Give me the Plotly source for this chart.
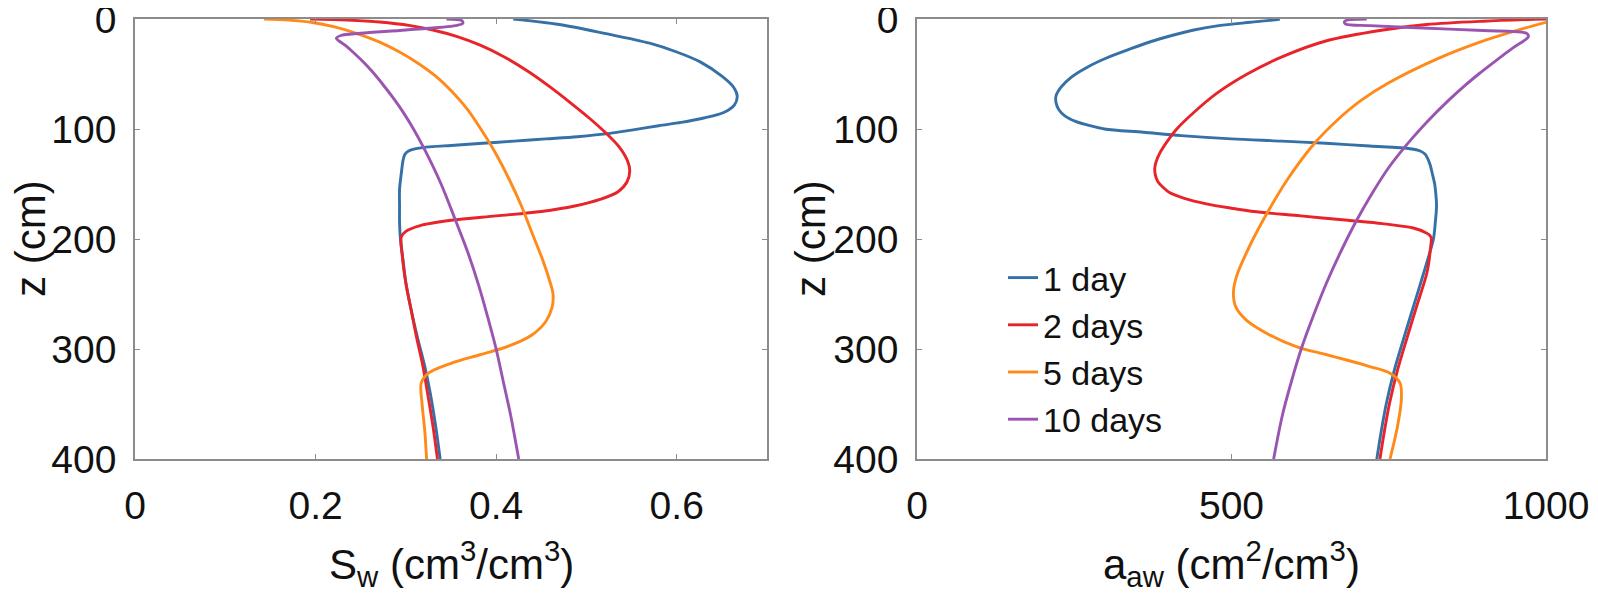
import plotly.graph_objects as go

# ---------------- data ----------------
series_names = ["1 day", "2 days", "5 days", "10 days"]
colors = ["#3570A6", "#E8232A", "#FF8A1A", "#9A55B0"]

# Left panel: S_w vs depth z
sw_1day_z = [0, 5, 13, 22, 30, 39, 52, 62, 70, 78, 85, 90, 94, 97, 101, 104, 107, 109, 111, 113, 115, 116, 118, 120, 123, 128, 140, 155, 170, 185, 200, 220, 240, 265, 290, 316, 340, 370, 400]
sw_1day_x = [0.419, 0.47, 0.52, 0.57, 0.600, 0.626, 0.650, 0.663, 0.667, 0.664, 0.652, 0.630, 0.605, 0.580, 0.550, 0.526, 0.490, 0.455, 0.420, 0.385, 0.350, 0.330, 0.310, 0.303, 0.299, 0.297, 0.295, 0.293, 0.293, 0.293, 0.294, 0.297, 0.300, 0.306, 0.313, 0.321, 0.327, 0.333, 0.338]

sw_2day_z = [0, 1, 2.7, 6, 10, 16, 24, 34, 48, 62, 76, 90, 104, 116, 128, 138, 148, 157, 164, 170, 175, 179, 183, 188, 193, 198, 215, 240, 265, 290, 316, 340, 370, 400]
sw_2day_x = [0.194, 0.235, 0.271, 0.305, 0.330, 0.357, 0.383, 0.408, 0.436, 0.460, 0.482, 0.503, 0.522, 0.536, 0.545, 0.548, 0.545, 0.535, 0.515, 0.487, 0.450, 0.400, 0.350, 0.315, 0.300, 0.295, 0.296, 0.300, 0.306, 0.312, 0.319, 0.324, 0.330, 0.335]

sw_5day_z = [0, 1, 3, 7, 13, 21, 30, 40, 52, 66, 82, 100, 120, 145, 170, 195, 220, 240, 250, 262, 275, 287, 297, 305, 313, 322, 331, 350, 375, 400]
sw_5day_x = [0.143, 0.170, 0.195, 0.220, 0.245, 0.271, 0.293, 0.313, 0.333, 0.351, 0.368, 0.383, 0.398, 0.414, 0.428, 0.440, 0.452, 0.460, 0.463, 0.462, 0.455, 0.440, 0.415, 0.383, 0.350, 0.325, 0.317, 0.318, 0.321, 0.323]

sw_10day_z = [0, 1.5, 4, 6, 10, 13, 15, 17.5, 24, 32, 40, 48, 60, 74, 86, 98, 119, 150, 183, 213, 243, 272, 300, 330, 360, 400]
sw_10day_x = [0.345, 0.362, 0.363, 0.355, 0.300, 0.250, 0.228, 0.223, 0.233, 0.244, 0.254, 0.263, 0.275, 0.288, 0.298, 0.307, 0.321, 0.339, 0.355, 0.369, 0.381, 0.391, 0.400, 0.408, 0.416, 0.425]

# Right panel: a_aw vs depth z
aw_1day_z = [0, 1, 3, 6, 10, 15, 20, 27, 35, 44, 53, 62, 70, 76, 82, 88, 93, 97, 100, 103, 106, 109, 111, 113, 115.5, 118, 120, 123, 127, 133, 140, 150, 160, 170, 185, 200, 230, 260, 290, 319, 350, 375, 400]
aw_1day_a = [577, 565, 530, 480, 440, 405, 375, 340, 303, 270, 245, 229, 221, 221, 225, 235, 252, 275, 298, 360, 420, 500, 580, 650, 720, 784, 800, 808, 812, 816, 819, 823, 825, 826, 824, 821, 806, 790, 774, 759, 746, 738, 731]

aw_2day_z = [0, 2, 5, 10, 20, 34, 50, 67, 85, 100, 112, 122, 130, 136, 142, 148, 153, 158, 163, 168, 172, 175, 179, 183, 186, 190, 194, 198, 210, 230, 260, 290, 319, 350, 375, 400]
aw_2day_a = [1000, 900, 810, 741, 650, 582, 525, 478, 440, 413, 397, 386, 380, 378, 379, 383, 391, 402, 425, 460, 500, 535, 610, 685, 740, 789, 808, 817, 816, 811, 795, 779, 764, 751, 743, 736]

aw_5day_z = [3, 9, 19, 36, 58, 74, 92, 113, 145, 177, 205, 234, 249, 262, 274, 287, 298, 305, 310, 316, 322, 331, 346, 370, 400]
aw_5day_a = [1000, 962, 905, 828, 750, 706, 668, 632, 590, 556, 530, 508, 503, 507, 524, 560, 604, 650, 683, 720, 752, 768, 770, 764, 752]

aw_10day_z = [0, 0.5, 2, 4.5, 6, 8, 10.5, 13, 16, 26, 38, 50, 61, 74, 94, 106, 116, 135, 160, 183, 210, 240, 270, 298, 330, 360, 400]
aw_10day_a = [715, 690, 680, 681, 720, 794, 900, 969, 972, 948, 920, 893, 870, 845, 810, 791, 776, 750, 722, 699, 675, 651, 630, 612, 595, 581, 567]

left_x = [sw_1day_x, sw_2day_x, sw_5day_x, sw_10day_x]
left_z = [sw_1day_z, sw_2day_z, sw_5day_z, sw_10day_z]
right_x = [aw_1day_a, aw_2day_a, aw_5day_a, aw_10day_a]
right_z = [aw_1day_z, aw_2day_z, aw_5day_z, aw_10day_z]

left_ticks = [0, 0.2, 0.4, 0.6]
left_ticktext = ["0", "0.2", "0.4", "0.6"]
right_ticks = [0, 500, 1000]
right_ticktext = ["0", "500", "1000"]
z_ticks = [0, 100, 200, 300, 400]

# ---------------- figure ----------------
# the page body adds an 8 px offset, so the figure is 8 px smaller each way
W, H = 1590, 604
FONT = "Liberation Sans, Arial, Helvetica, sans-serif"

fig = go.Figure()
for i in range(4):
    fig.add_trace(go.Scatter(x=left_x[i], y=left_z[i], mode="lines", name=series_names[i],
                             line=dict(color=colors[i], width=2.9, shape="spline", smoothing=0.9),
                             xaxis="x", yaxis="y", showlegend=False))
for i in range(4):
    fig.add_trace(go.Scatter(x=right_x[i], y=right_z[i], mode="lines", name=series_names[i],
                             line=dict(color=colors[i], width=2.9, shape="spline", smoothing=0.9),
                             xaxis="x2", yaxis="y2", showlegend=True))

ax_common = dict(showline=True, linecolor="#8c8c8c", linewidth=1.5, mirror="ticks",
                 ticks="inside", ticklen=5, tickwidth=1, tickcolor="#8c8c8c",
                 showgrid=False, zeroline=False, ticklabeloverflow="allow", automargin=False,
                 tickfont=dict(family=FONT, size=39, color="#111111"))

top_px, bot_px = 11, 451
ydom = [1 - bot_px / H, 1 - top_px / H]

fig.update_layout(
    width=W, height=H, margin=dict(l=0, r=0, t=0, b=0, pad=0, autoexpand=False),
    paper_bgcolor="white", plot_bgcolor="white",
    font=dict(family=FONT, color="#111111"),
    xaxis=dict(domain=[127 / W, 759 / W], range=[0, 0.7], tickvals=left_ticks, ticktext=left_ticktext,
               anchor="y", ticklabelstandoff=11, **ax_common),
    yaxis=dict(domain=ydom, range=[400, 0], tickvals=z_ticks, anchor="x",
               ticklabelstandoff=9, **ax_common),
    xaxis2=dict(domain=[909 / W, 1538 / W], range=[0, 1000], tickvals=right_ticks, ticktext=right_ticktext,
                anchor="y2", ticklabelstandoff=11, **ax_common),
    yaxis2=dict(domain=ydom, range=[400, 0], tickvals=z_ticks, anchor="x2",
                ticklabelstandoff=9, **ax_common),
    legend=dict(x=995 / W, y=1 - 241 / H, xanchor="left", yanchor="top",
                bgcolor="rgba(0,0,0,0)", font=dict(family=FONT, size=34, color="#111111"),
                tracegroupgap=0, itemwidth=30),
    showlegend=True,
)

title_font = dict(family=FONT, size=42, color="#111111")
fig.add_annotation(text="z (cm)", x=22 / W, y=1 - 231 / H, xref="paper", yref="paper",
                   textangle=-90, showarrow=False, font=title_font, xanchor="center", yanchor="middle")
fig.add_annotation(text="z (cm)", x=802 / W, y=1 - 231 / H, xref="paper", yref="paper",
                   textangle=-90, showarrow=False, font=title_font, xanchor="center", yanchor="middle")
fig.add_annotation(text="S<sub>w</sub> (cm<sup>3</sup>/cm<sup>3</sup>)", x=443 / W, y=1 - 555 / H,
                   xref="paper", yref="paper", showarrow=False, font=title_font,
                   xanchor="center", yanchor="middle")
fig.add_annotation(text="a<sub>aw</sub> (cm<sup>2</sup>/cm<sup>3</sup>)", x=1223 / W, y=1 - 555 / H,
                   xref="paper", yref="paper", showarrow=False, font=title_font,
                   xanchor="center", yanchor="middle")

fig.write_html("out.html")
